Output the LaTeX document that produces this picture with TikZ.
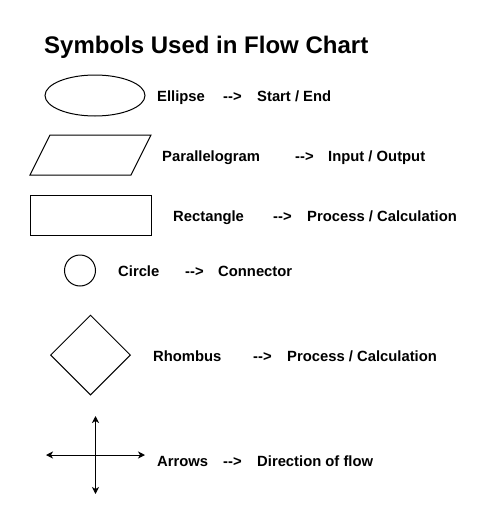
\documentclass[tikz,border=0pt]{standalone}
\usepackage{fontspec}
\setmainfont{Liberation Sans}
\usetikzlibrary{shapes.geometric,arrows.meta}

\tikzset{
  symbol/.style={draw, line width=1pt, inner sep=0pt},
  lbl/.style={font=\fontsize{14.8}{17}\selectfont\bfseries, anchor=base west, inner sep=0pt},
  flow/.style={line width=1pt, {Stealth[length=7pt,width=7pt,inset=2pt]}-{Stealth[length=7pt,width=7pt,inset=2pt]}}
}

\begin{document}
\begin{tikzpicture}[x=1pt,y=-1pt]
    \useasboundingbox (0,0) rectangle (495,530);
    \node[anchor=base west, inner sep=0pt, font=\fontsize{24}{28}\selectfont\bfseries] (title) at (44,53) {Symbols Used in Flow Chart};
    % ellipse
    \node[symbol, ellipse, minimum width=100pt, minimum height=41pt] (ell) at (95,95.5) {};
    \node[lbl] (ellName) at (157,101) {Ellipse};
    \node[lbl] (ellTo) at (223,101) {-{}-{}>};
    \node[lbl] (ellUse) at (257,101) {Start / End};
    % parallelogram
    \coordinate (pTL) at (50,135);
    \coordinate (pTR) at (151,135);
    \coordinate (pBR) at (131,175);
    \coordinate (pBL) at (30,175);
    \draw[line width=1pt] (pTL) -- (pTR) -- (pBR) -- (pBL) -- cycle;
    \node[lbl] (parName) at (162,161) {Parallelogram};
    \node[lbl] (parTo) at (295,161) {-{}-{}>};
    \node[lbl] (parUse) at (328,161) {Input / Output};
    % rectangle
    \node[symbol, rectangle, minimum width=121pt, minimum height=40pt] (rect) at (90.5,215) {};
    \node[lbl] (rectName) at (173,221) {Rectangle};
    \node[lbl] (rectTo) at (273,221) {-{}-{}>};
    \node[lbl] (rectUse) at (307,221) {Process / Calculation};
    % circle
    \node[symbol, circle, minimum size=31pt] (circ) at (80,270.5) {};
    \node[lbl] (circName) at (118,276) {Circle};
    \node[lbl] (circTo) at (185,276) {-{}-{}>};
    \node[lbl] (circUse) at (218,276) {Connector};
    % rhombus
    \node[symbol, diamond, minimum width=80pt, minimum height=80pt] (rhom) at (90.5,355) {};
    \node[lbl] (rhomName) at (153,361) {Rhombus};
    \node[lbl] (rhomTo) at (253,361) {-{}-{}>};
    \node[lbl] (rhomUse) at (287,361) {Process / Calculation};
    % arrows
    \coordinate (arrN) at (95.5,416);
    \coordinate (arrS) at (95.5,494);
    \coordinate (arrW) at (46,455);
    \coordinate (arrE) at (145,455);
    \draw[flow] (arrW) -- (arrE);
    \draw[flow] (arrN) -- (arrS);
    \node[lbl] (arrName) at (157,466) {Arrows};
    \node[lbl] (arrTo) at (223,466) {-{}-{}>};
    \node[lbl] (arrUse) at (257,466) {Direction of flow};
\end{tikzpicture}
\end{document}
